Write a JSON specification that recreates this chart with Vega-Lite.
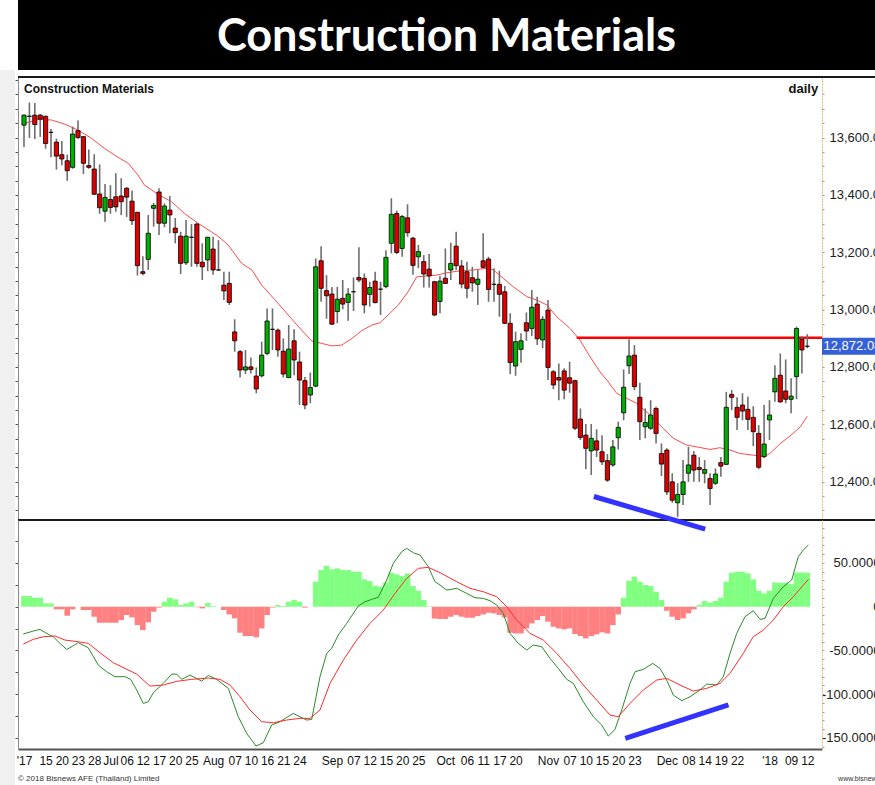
{
 "$schema": "https://vega.github.io/schema/vega-lite/v6.json",
 "background": "white",
 "padding": {"left": 0, "top": 0, "right": 0, "bottom": 0},
 "config": {"view": {"stroke": null}, "font": "Liberation Sans", "axis": {"title": null, "grid": false}, "scale": {"continuousPadding": 0}},
 "datasets": {
  "candles": [
   {"i":0,"o":13643,"h":13680,"l":13567,"c":13678},{"i":1,"o":13674,"h":13722,"l":13598,"c":13674},{"i":2,"o":13678,"h":13720,"l":13595,"c":13645},{"i":3,"o":13678,"h":13682,"l":13602,"c":13664},{"i":4,"o":13674,"h":13676,"l":13561,"c":13579},{"i":5,"o":13618,"h":13630,"l":13531,"c":13618},{"i":6,"o":13584,"h":13596,"l":13488,"c":13535},{"i":7,"o":13540,"h":13588,"l":13503,"c":13525},{"i":8,"o":13519,"h":13540,"l":13449,"c":13484},{"i":9,"o":13496,"h":13638,"l":13491,"c":13612},
   {"i":10,"o":13624,"h":13659,"l":13595,"c":13600},{"i":11,"o":13603,"h":13605,"l":13473,"c":13510},{"i":12,"o":13502,"h":13558,"l":13491,"c":13496},{"i":13,"o":13490,"h":13542,"l":13400,"c":13402},{"i":14,"o":13403,"h":13506,"l":13334,"c":13355},{"i":15,"o":13343,"h":13438,"l":13306,"c":13391},{"i":16,"o":13384,"h":13434,"l":13334,"c":13356},{"i":17,"o":13393,"h":13475,"l":13341,"c":13358},{"i":18,"o":13396,"h":13458,"l":13329,"c":13376},{"i":19,"o":13423,"h":13427,"l":13323,"c":13392},
   {"i":20,"o":13378,"h":13415,"l":13295,"c":13310},{"i":21,"o":13339,"h":13341,"l":13119,"c":13153},{"i":22,"o":13132,"h":13186,"l":13120,"c":13126},{"i":23,"o":13175,"h":13330,"l":13138,"c":13266},{"i":24,"o":13353,"h":13372,"l":13289,"c":13363},{"i":25,"o":13410,"h":13423,"l":13260,"c":13301},{"i":26,"o":13301,"h":13370,"l":13287,"c":13361},{"i":27,"o":13347,"h":13396,"l":13266,"c":13330},{"i":28,"o":13284,"h":13319,"l":13231,"c":13268},{"i":29,"o":13256,"h":13271,"l":13124,"c":13161},
   {"i":30,"o":13163,"h":13312,"l":13155,"c":13256},{"i":31,"o":13252,"h":13298,"l":13149,"c":13252},{"i":32,"o":13298,"h":13303,"l":13149,"c":13161},{"i":33,"o":13165,"h":13231,"l":13103,"c":13149},{"i":34,"o":13173,"h":13254,"l":13134,"c":13252},{"i":35,"o":13211,"h":13254,"l":13121,"c":13138},{"i":36,"o":13138,"h":13242,"l":13136,"c":13138},{"i":37,"o":13085,"h":13132,"l":13033,"c":13065},{"i":38,"o":13091,"h":13132,"l":13016,"c":13025},{"i":39,"o":12922,"h":12966,"l":12853,"c":12891},
   {"i":40,"o":12853,"h":12859,"l":12763,"c":12789},{"i":41,"o":12789,"h":12859,"l":12775,"c":12800},{"i":42,"o":12800,"h":12833,"l":12777,"c":12791},{"i":43,"o":12768,"h":12798,"l":12708,"c":12723},{"i":44,"o":12769,"h":12888,"l":12763,"c":12841},{"i":45,"o":12847,"h":13004,"l":12841,"c":12960},{"i":46,"o":12931,"h":13004,"l":12859,"c":12931},{"i":47,"o":12928,"h":12934,"l":12835,"c":12859},{"i":48,"o":12855,"h":12899,"l":12763,"c":12775},{"i":49,"o":12763,"h":12946,"l":12760,"c":12862},
   {"i":50,"o":12891,"h":12931,"l":12771,"c":12824},{"i":51,"o":12817,"h":12853,"l":12667,"c":12754},{"i":52,"o":12752,"h":12765,"l":12652,"c":12667},{"i":53,"o":12702,"h":12780,"l":12673,"c":12728},{"i":54,"o":12733,"h":13178,"l":12729,"c":13149},{"i":55,"o":13170,"h":13221,"l":13027,"c":13074},{"i":56,"o":13066,"h":13120,"l":12968,"c":13048},{"i":57,"o":13054,"h":13079,"l":12946,"c":12949},{"i":58,"o":12993,"h":13079,"l":12952,"c":13036},{"i":59,"o":13039,"h":13103,"l":13001,"c":13019},
   {"i":60,"o":13025,"h":13074,"l":12961,"c":13054},{"i":61,"o":13062,"h":13112,"l":12995,"c":13062},{"i":62,"o":13112,"h":13217,"l":13095,"c":13103},{"i":63,"o":13109,"h":13126,"l":12987,"c":13016},{"i":64,"o":13053,"h":13097,"l":13010,"c":13077},{"i":65,"o":13099,"h":13132,"l":13022,"c":13024},{"i":66,"o":13071,"h":13097,"l":12981,"c":13071},{"i":67,"o":13080,"h":13207,"l":13074,"c":13182},{"i":68,"o":13231,"h":13388,"l":13196,"c":13332},{"i":69,"o":13335,"h":13345,"l":13193,"c":13199},
   {"i":70,"o":13213,"h":13330,"l":13184,"c":13324},{"i":71,"o":13320,"h":13367,"l":13254,"c":13268},{"i":72,"o":13249,"h":13254,"l":13121,"c":13154},{"i":73,"o":13184,"h":13225,"l":13144,"c":13202},{"i":74,"o":13167,"h":13190,"l":13077,"c":13124},{"i":75,"o":13141,"h":13194,"l":13077,"c":13117},{"i":76,"o":13097,"h":13100,"l":12977,"c":12981},{"i":77,"o":13028,"h":13117,"l":12987,"c":13099},{"i":78,"o":13109,"h":13213,"l":13089,"c":13091},{"i":79,"o":13138,"h":13233,"l":13103,"c":13161},
   {"i":80,"o":13221,"h":13271,"l":13138,"c":13153},{"i":81,"o":13152,"h":13173,"l":13074,"c":13089},{"i":82,"o":13132,"h":13167,"l":13039,"c":13074},{"i":83,"o":13111,"h":13149,"l":13062,"c":13093},{"i":84,"o":13088,"h":13138,"l":13016,"c":13106},{"i":85,"o":13170,"h":13266,"l":13144,"c":13147},{"i":86,"o":13176,"h":13184,"l":13027,"c":13070},{"i":87,"o":13088,"h":13144,"l":13027,"c":13088},{"i":88,"o":13088,"h":13135,"l":12975,"c":13053},{"i":89,"o":13062,"h":13082,"l":12949,"c":12952},
   {"i":90,"o":12952,"h":12987,"l":12775,"c":12815},{"i":91,"o":12803,"h":12923,"l":12769,"c":12888},{"i":92,"o":12861,"h":12917,"l":12814,"c":12891},{"i":93,"o":12954,"h":12990,"l":12891,"c":12925},{"i":94,"o":12934,"h":13068,"l":12908,"c":13008},{"i":95,"o":13019,"h":13045,"l":12876,"c":12898},{"i":96,"o":12894,"h":12977,"l":12865,"c":12966},{"i":97,"o":12998,"h":13033,"l":12754,"c":12798},{"i":98,"o":12783,"h":12789,"l":12722,"c":12737},{"i":99,"o":12763,"h":12812,"l":12684,"c":12754},
   {"i":100,"o":12786,"h":12795,"l":12687,"c":12719},{"i":101,"o":12762,"h":12818,"l":12710,"c":12743},{"i":102,"o":12752,"h":12755,"l":12580,"c":12586},{"i":103,"o":12618,"h":12655,"l":12545,"c":12554},{"i":104,"o":12562,"h":12601,"l":12443,"c":12516},{"i":105,"o":12507,"h":12601,"l":12423,"c":12551},{"i":106,"o":12542,"h":12582,"l":12486,"c":12510},{"i":107,"o":12504,"h":12562,"l":12458,"c":12469},{"i":108,"o":12473,"h":12496,"l":12399,"c":12405},{"i":109,"o":12458,"h":12545,"l":12452,"c":12521},
   {"i":110,"o":12553,"h":12609,"l":12512,"c":12589},{"i":111,"o":12640,"h":12791,"l":12614,"c":12729},{"i":112,"o":12804,"h":12896,"l":12775,"c":12838},{"i":113,"o":12841,"h":12876,"l":12719,"c":12731},{"i":114,"o":12694,"h":12745,"l":12545,"c":12609},{"i":115,"o":12591,"h":12655,"l":12551,"c":12606},{"i":116,"o":12586,"h":12684,"l":12580,"c":12632},{"i":117,"o":12655,"h":12661,"l":12533,"c":12568},{"i":118,"o":12498,"h":12533,"l":12419,"c":12461},{"i":119,"o":12510,"h":12516,"l":12353,"c":12364},
   {"i":120,"o":12399,"h":12429,"l":12326,"c":12335},{"i":121,"o":12326,"h":12394,"l":12277,"c":12355},{"i":122,"o":12355,"h":12475,"l":12318,"c":12399},{"i":123,"o":12429,"h":12521,"l":12399,"c":12458},{"i":124,"o":12492,"h":12507,"l":12399,"c":12440},{"i":125,"o":12449,"h":12486,"l":12399,"c":12442},{"i":126,"o":12429,"h":12475,"l":12394,"c":12442},{"i":127,"o":12411,"h":12429,"l":12318,"c":12376},{"i":128,"o":12394,"h":12446,"l":12388,"c":12426},{"i":129,"o":12466,"h":12486,"l":12417,"c":12454},
   {"i":130,"o":12460,"h":12713,"l":12458,"c":12659},{"i":131,"o":12704,"h":12719,"l":12649,"c":12694},{"i":132,"o":12659,"h":12694,"l":12580,"c":12624},{"i":133,"o":12667,"h":12708,"l":12614,"c":12646},{"i":134,"o":12652,"h":12696,"l":12580,"c":12617},{"i":135,"o":12624,"h":12663,"l":12524,"c":12574},{"i":136,"o":12568,"h":12597,"l":12443,"c":12450},{"i":137,"o":12487,"h":12667,"l":12481,"c":12531},{"i":138,"o":12615,"h":12684,"l":12545,"c":12632},{"i":139,"o":12713,"h":12806,"l":12678,"c":12760},
   {"i":140,"o":12771,"h":12847,"l":12675,"c":12678},{"i":141,"o":12716,"h":12826,"l":12673,"c":12687},{"i":142,"o":12687,"h":12760,"l":12638,"c":12698},{"i":143,"o":12766,"h":12940,"l":12687,"c":12934},{"i":144,"o":12896,"h":12907,"l":12777,"c":12859},{"i":145,"o":12872,"h":12914,"l":12865,"c":12872}
  ],
  "ma": [
   {"i":0.1,"p":13649},{"i":2.6,"p":13663},{"i":5.1,"p":13661},{"i":7.5,"p":13647},{"i":10,"p":13626},{"i":12.5,"p":13597},{"i":14.9,"p":13562},{"i":17.4,"p":13531},{"i":19.3,"p":13510},{"i":21.1,"p":13469},{"i":22.3,"p":13434},{"i":24.8,"p":13402},{"i":27.3,"p":13376},{"i":29.7,"p":13335},{"i":32.2,"p":13301},{"i":34.7,"p":13271},{"i":35.9,"p":13256},{"i":37.8,"p":13225},{"i":40.3,"p":13161},{"i":42.2,"p":13138},{"i":44,"p":13085},{"i":46.5,"p":13033},{"i":48.9,"p":12981},{"i":51.4,"p":12928},{"i":53.3,"p":12890},{"i":55.1,"p":12882},{"i":57,"p":12873},{"i":58.8,"p":12876},{"i":60.7,"p":12899},{"i":62.5,"p":12926},{"i":64.4,"p":12946},{"i":65.9,"p":12954},{"i":67.4,"p":12981},{"i":69.3,"p":13016},{"i":71.1,"p":13062},{"i":72.7,"p":13114},{"i":74.5,"p":13117},{"i":76.4,"p":13120},{"i":78.2,"p":13128},{"i":80.7,"p":13135},{"i":83.2,"p":13138},{"i":85.7,"p":13144},{"i":86.9,"p":13138},{"i":88.7,"p":13109},{"i":90.6,"p":13079},{"i":93.1,"p":13045},{"i":94.9,"p":13033},{"i":96.8,"p":13016},{"i":98.6,"p":12975},{"i":101.1,"p":12934},{"i":102.9,"p":12894},{"i":104.8,"p":12835},{"i":106.6,"p":12783},{"i":107.9,"p":12754},{"i":109.7,"p":12708},{"i":111.6,"p":12690},{"i":113.4,"p":12673},{"i":115.9,"p":12632},{"i":117.7,"p":12597},{"i":120.2,"p":12551},{"i":122.7,"p":12527},{"i":125.1,"p":12519},{"i":127,"p":12512},{"i":128.8,"p":12518},{"i":130.7,"p":12510},{"i":132.5,"p":12498},{"i":135,"p":12492},{"i":136.9,"p":12487},{"i":138.1,"p":12498},{"i":140,"p":12533},{"i":141.8,"p":12559},{"i":143.7,"p":12591},{"i":145,"p":12628}
  ],
  "hist": [
   {"i":0,"v":12.2},{"i":1,"v":12.2},{"i":2,"v":10.3},{"i":3,"v":10.3},{"i":4,"v":3.8},{"i":5,"v":3.8},{"i":6,"v":-3},{"i":7,"v":-3},{"i":8,"v":-10.3},{"i":9,"v":-3},{"i":10,"v":0},{"i":11,"v":-3.8},{"i":12,"v":-3.8},{"i":13,"v":-11.4},{"i":14,"v":-18.3},{"i":15,"v":-18.3},{"i":16,"v":-18.3},{"i":17,"v":-18.3},{"i":18,"v":-15.2},{"i":19,"v":-9.5},
   {"i":20,"v":-12.2},{"i":21,"v":-21},{"i":22,"v":-26.7},{"i":23,"v":-17.9},{"i":24,"v":-5.7},{"i":25,"v":-1},{"i":26,"v":5.7},{"i":27,"v":10.3},{"i":28,"v":8.4},{"i":29,"v":1.9},{"i":30,"v":3.8},{"i":31,"v":5.7},{"i":32,"v":-0.5},{"i":33,"v":-1.9},{"i":34,"v":4.2},{"i":35,"v":0.8},{"i":36,"v":0},{"i":37,"v":-3.8},{"i":38,"v":-8.8},{"i":39,"v":-13.3},
   {"i":40,"v":-29.7},{"i":41,"v":-33.5},{"i":42,"v":-33.5},{"i":43,"v":-35},{"i":44,"v":-24.8},{"i":45,"v":-9.5},{"i":46,"v":-1},{"i":47,"v":1.9},{"i":48,"v":0.8},{"i":49,"v":5.7},{"i":50,"v":7.6},{"i":51,"v":5.7},{"i":52,"v":-1.1},{"i":53,"v":0},{"i":54,"v":28.6},{"i":55,"v":41.9},{"i":56,"v":46.9},{"i":57,"v":42.7},{"i":58,"v":43.8},{"i":59,"v":41.9},
   {"i":60,"v":41.9},{"i":61,"v":40},{"i":62,"v":40},{"i":63,"v":31.2},{"i":64,"v":29.3},{"i":65,"v":24},{"i":66,"v":22.9},{"i":67,"v":27.8},{"i":68,"v":38.9},{"i":69,"v":37},{"i":70,"v":35},{"i":71,"v":38},{"i":72,"v":23.6},{"i":73,"v":18.3},{"i":74,"v":7.6},{"i":75,"v":0.5},{"i":76,"v":-13.5},{"i":77,"v":-14},{"i":78,"v":-14},{"i":79,"v":-11.4},
   {"i":80,"v":-9.5},{"i":81,"v":-11.4},{"i":82,"v":-12.6},{"i":83,"v":-12.6},{"i":84,"v":-10.7},{"i":85,"v":-8.8},{"i":86,"v":-6.9},{"i":87,"v":-7.6},{"i":88,"v":-9.5},{"i":89,"v":-12.2},{"i":90,"v":-29.7},{"i":91,"v":-30.5},{"i":92,"v":-30.5},{"i":93,"v":-24.8},{"i":94,"v":-19},{"i":95,"v":-15.2},{"i":96,"v":-10.7},{"i":97,"v":-17.1},{"i":98,"v":-22.9},{"i":99,"v":-24.8},
   {"i":100,"v":-25.9},{"i":101,"v":-24.8},{"i":102,"v":-31.2},{"i":103,"v":-33.5},{"i":104,"v":-36.2},{"i":105,"v":-33.5},{"i":106,"v":-31.6},{"i":107,"v":-29.3},{"i":108,"v":-30.5},{"i":109,"v":-21},{"i":110,"v":-8.8},{"i":111,"v":10.3},{"i":112,"v":29.7},{"i":113,"v":34.3},{"i":114,"v":28.6},{"i":115,"v":24.8},{"i":116,"v":23.6},{"i":117,"v":17.1},{"i":118,"v":7.6},{"i":119,"v":-4.6},
   {"i":120,"v":-11.4},{"i":121,"v":-15.2},{"i":122,"v":-13.3},{"i":123,"v":-7.6},{"i":124,"v":-3},{"i":125,"v":1.9},{"i":126,"v":6.5},{"i":127,"v":4.6},{"i":128,"v":6.5},{"i":129,"v":10.3},{"i":130,"v":28.6},{"i":131,"v":38.9},{"i":132,"v":40},{"i":133,"v":40},{"i":134,"v":38.1},{"i":135,"v":31.2},{"i":136,"v":18.3},{"i":137,"v":15.2},{"i":138,"v":18.3},{"i":139,"v":27.8},
   {"i":140,"v":27.4},{"i":141,"v":27.4},{"i":142,"v":25.9},{"i":143,"v":38.9},{"i":144,"v":39.2},{"i":145,"v":38.9}
  ],
  "macd": [
   {"i":-0.13,"v":-31.2},{"i":1.72,"v":-27.8},{"i":2.96,"v":-25.9},{"i":4.2,"v":-30.5},{"i":5.42,"v":-34.3},{"i":6.66,"v":-41.9},{"i":7.9,"v":-48.8},{"i":9.02,"v":-45},{"i":10.05,"v":-41.1},{"i":11.9,"v":-46.9},{"i":13.75,"v":-66.7},{"i":15.3,"v":-74.3},{"i":16.85,"v":-80},{"i":18.7,"v":-80},{"i":19.75,"v":-83},{"i":20.86,"v":-95.2},{"i":22.08,"v":-110.5},{"i":23.01,"v":-108.6},{"i":23.94,"v":-98.3},{"i":25.79,"v":-87.6},{"i":27.34,"v":-77},{"i":28.27,"v":-77},{"i":29.19,"v":-83},{"i":30.73,"v":-78.1},{"i":32.9,"v":-85},{"i":34.12,"v":-78.5},{"i":35.67,"v":-83},{"i":37.82,"v":-93.3},{"i":39.67,"v":-125.7},{"i":41.23,"v":-144.8},{"i":42.95,"v":-159.2},{"i":44.3,"v":-155.4},{"i":45.85,"v":-135.2},{"i":47.39,"v":-131.4},{"i":49.85,"v":-121.9},{"i":51.09,"v":-125.7},{"i":52.33,"v":-129.5},{"i":53.26,"v":-128.8},{"i":54.79,"v":-80},{"i":56.04,"v":-53.3},{"i":56.96,"v":-47.6},{"i":58.18,"v":-32.4},{"i":59.74,"v":-19},{"i":61.88,"v":0.8},{"i":63.12,"v":5.7},{"i":64.37,"v":8.4},{"i":65.59,"v":10.7},{"i":67.14,"v":30.5},{"i":68.36,"v":49.5},{"i":69.92,"v":62.9},{"i":70.84,"v":66.7},{"i":72.07,"v":61.7},{"i":73.31,"v":59},{"i":74.84,"v":45.7},{"i":76.08,"v":28.6},{"i":77.01,"v":24.8},{"i":78.25,"v":19},{"i":80.1,"v":21},{"i":81.95,"v":15.2},{"i":83.49,"v":10.3},{"i":85.03,"v":9.5},{"i":86.26,"v":6.9},{"i":87.5,"v":1.9},{"i":88.73,"v":-7.6},{"i":89.97,"v":-30.5},{"i":91.5,"v":-41.9},{"i":93.06,"v":-49.5},{"i":94.28,"v":-43.8},{"i":95.84,"v":-45.7},{"i":97.37,"v":-59},{"i":98.91,"v":-70.5},{"i":100.46,"v":-83},{"i":101.68,"v":-87.6},{"i":103.53,"v":-108.6},{"i":105.39,"v":-125.7},{"i":106.94,"v":-135.2},{"i":108.16,"v":-147.8},{"i":109.4,"v":-140.2},{"i":110.64,"v":-118.1},{"i":112.18,"v":-87.6},{"i":113.11,"v":-74.3},{"i":114.64,"v":-71.6},{"i":116.38,"v":-64.8},{"i":117.73,"v":-70.5},{"i":118.97,"v":-83.8},{"i":120.2,"v":-101},{"i":121.75,"v":-107.4},{"i":123.29,"v":-102.9},{"i":125.14,"v":-95.2},{"i":126.38,"v":-88.4},{"i":128.23,"v":-89.5},{"i":129.45,"v":-80},{"i":130.69,"v":-53.3},{"i":131.93,"v":-30.5},{"i":133.47,"v":-11.4},{"i":135,"v":-4.6},{"i":136.25,"v":-14.5},{"i":137.17,"v":-13.3},{"i":138.71,"v":9.5},{"i":140.56,"v":22.9},{"i":142.11,"v":30.5},{"i":143.33,"v":57.1},{"i":144.26,"v":64.8},{"i":145.19,"v":70.5}
  ],
  "signal": [
   {"i":-0.13,"v":-42.7},{"i":1.72,"v":-37.3},{"i":3.57,"v":-34.3},{"i":5.74,"v":-33.5},{"i":7.59,"v":-38.1},{"i":10.05,"v":-40},{"i":11.9,"v":-41.9},{"i":14.07,"v":-52.6},{"i":16.53,"v":-64},{"i":18.7,"v":-70.5},{"i":20.86,"v":-77},{"i":23.32,"v":-90.7},{"i":25.79,"v":-89.5},{"i":28.27,"v":-85.3},{"i":31.04,"v":-83},{"i":34.12,"v":-81.5},{"i":36.28,"v":-83},{"i":38.13,"v":-89.5},{"i":39.99,"v":-102.9},{"i":41.84,"v":-118.1},{"i":44,"v":-131.4},{"i":46.15,"v":-132.6},{"i":48.63,"v":-129.5},{"i":51.09,"v":-127.6},{"i":52.94,"v":-127.6},{"i":54.79,"v":-118.1},{"i":56.65,"v":-87.6},{"i":59.11,"v":-61},{"i":61.59,"v":-38.1},{"i":64.05,"v":-19},{"i":66.51,"v":-3.8},{"i":68.68,"v":15.2},{"i":70.84,"v":32.4},{"i":72.99,"v":43.8},{"i":74.84,"v":45},{"i":77.01,"v":38.9},{"i":80.1,"v":28.6},{"i":82.56,"v":21},{"i":85.03,"v":17.1},{"i":87.5,"v":11.4},{"i":89.36,"v":0},{"i":91.2,"v":-15.2},{"i":93.67,"v":-30.5},{"i":96.13,"v":-38.1},{"i":98.61,"v":-53.3},{"i":101.07,"v":-70.5},{"i":103.53,"v":-89.5},{"i":106.02,"v":-106.7},{"i":108.48,"v":-123.8},{"i":110.01,"v":-125.7},{"i":112.18,"v":-110.5},{"i":114.64,"v":-95.2},{"i":117.12,"v":-83.8},{"i":118.97,"v":-81.9},{"i":121.44,"v":-89.5},{"i":123.9,"v":-96.4},{"i":126.38,"v":-93.3},{"i":128.84,"v":-87.6},{"i":130.69,"v":-76.2},{"i":133.15,"v":-53.3},{"i":135,"v":-34.3},{"i":136.86,"v":-26.7},{"i":138.71,"v":-15.2},{"i":140.56,"v":0},{"i":142.41,"v":11.4},{"i":145.19,"v":31.2}
  ]
 },
 "spacing": 7,
 "bounds": "flush",
 "vconcat": [
  {
   "width": 857, "height": 70,
   "view": {"fill": "#000000", "stroke": null},
   "data": {"values": [{"t": "Construction Materials"}]},
   "mark": {"type": "text", "font": "Lato", "fontWeight": "bold", "fontSize": 45, "color": "#ffffff", "align": "center", "baseline": "middle", "dy": 2},
   "encoding": {"text": {"field": "t"}}
  },
  {
   "spacing": 0,
   "bounds": "flush",
   "vconcat": [
    {
     "width": 804, "height": 443,
     "resolve": {"axis": {"x": "independent", "y": "independent"}},
     "layer": [
      {
       "data": {"values": [{"area": "margin"}]},
       "mark": {"type": "rect", "fill": "#f0f0f0"},
       "encoding": {
        "x": {"datum": -4.44, "type": "quantitative", "scale": {"domain": [-1.11, 147.72], "nice": false, "zero": false, "padding": 0}, "axis": null},
        "x2": {"datum": -1.67},
        "y": {"datum": 13835, "type": "quantitative", "scale": {"domain": [12266, 13811], "nice": false, "zero": false, "padding": 0}, "axis": null},
        "y2": {"datum": 12266}
       }
      },
      {
       "data": {"values": [{"edge": "top", "p": 13811}, {"edge": "bottom", "p": 12266}]},
       "mark": {"type": "rule", "color": "#1a1a1a", "strokeWidth": 2},
       "encoding": {
        "x": {"datum": -1.11, "type": "quantitative", "scale": {"domain": [-1.11, 147.72], "nice": false, "zero": false, "padding": 0}, "axis": null},
        "x2": {"datum": 160},
        "y": {"field": "p", "type": "quantitative", "scale": {"domain": [12266, 13811], "nice": false, "zero": false, "padding": 0}, "axis": null}
       }
      },
      {
       "data": {"name": "ma"},
       "mark": {"type": "line", "color": "#ff4a4a", "strokeWidth": 1},
       "encoding": {
        "x": {"field": "i", "type": "quantitative", "scale": {"domain": [-1.11, 147.72], "nice": false, "zero": false, "padding": 0}, "axis": null},
        "y": {"field": "p", "type": "quantitative", "scale": {"domain": [12266, 13811], "nice": false, "zero": false, "padding": 0}, "axis": null}
       }
      },
      {
       "data": {"values": [{"level": "resistance", "p": 12902}]},
       "mark": {"type": "rule", "color": "#ff0000", "strokeWidth": 2.5},
       "encoding": {
        "x": {"datum": 102.3, "type": "quantitative", "scale": {"domain": [-1.11, 147.72], "nice": false, "zero": false, "padding": 0}, "axis": null},
        "x2": {"datum": 147.72},
        "y": {"field": "p", "type": "quantitative", "scale": {"domain": [12266, 13811], "nice": false, "zero": false, "padding": 0}, "axis": null}
       }
      },
      {
       "data": {"name": "candles"},
       "mark": {"type": "rule", "color": "#6e6e6e", "strokeWidth": 1.6},
       "encoding": {
        "x": {"field": "i", "type": "quantitative", "scale": {"domain": [-1.11, 147.72], "nice": false, "zero": false, "padding": 0}, "axis": null},
        "y": {"field": "l", "type": "quantitative", "scale": {"domain": [12266, 13811], "nice": false, "zero": false, "padding": 0},
              "axis": {"orient": "left", "values": [12300,12350,12400,12450,12500,12550,12600,12650,12700,12750,12800,12850,12900,12950,13000,13050,13100,13150,13200,13250,13300,13350,13400,13450,13500,13550,13600,13650,13700,13750,13800], "labels": false, "tickSize": 3, "tickColor": "#555555", "domainColor": "#8a8a8a", "title": null}},
        "y2": {"field": "h"}
       }
      },
      {
       "data": {"name": "candles"},
       "mark": {"type": "bar", "width": 4.2, "stroke": "#000000", "strokeWidth": 0.8},
       "encoding": {
        "x": {"field": "i", "type": "quantitative", "scale": {"domain": [-1.11, 147.72], "nice": false, "zero": false, "padding": 0}, "axis": null},
        "y": {"field": "o", "type": "quantitative", "scale": {"domain": [12266, 13811], "nice": false, "zero": false, "padding": 0},
              "axis": {"orient": "right", "values": [12300,12350,12400,12450,12500,12550,12600,12650,12700,12750,12800,12850,12900,12950,13000,13050,13100,13150,13200,13250,13300,13350,13400,13450,13500,13550,13600,13650,13700,13750],
                       "labelExpr": "(datum.value % 200 === 0 && datum.value >= 12400 && datum.value <= 13600) ? format(datum.value, ',.2f') : ''",
                       "tickSize": 2, "tickColor": "#999999", "domainColor": "#d8c070", "domainDash": [2, 1],
                       "labelFont": "Liberation Sans", "labelFontSize": 13, "labelColor": "#222222", "labelPadding": 5, "labelOverlap": false, "labelBound": false, "title": null}},
        "y2": {"field": "c"},
        "fill": {"condition": {"test": "datum.c > datum.o", "value": "#00b000"}, "value": "#e00000"}
       }
      },
      {
       "data": {"values": [{"line": "price trend"}]},
       "mark": {"type": "rule", "color": "#3333ff", "strokeWidth": 5},
       "encoding": {
        "x": {"datum": 105.5, "type": "quantitative", "scale": {"domain": [-1.11, 147.72], "nice": false, "zero": false, "padding": 0}, "axis": null},
        "x2": {"datum": 126.1},
        "y": {"datum": 12348, "type": "quantitative", "scale": {"domain": [12266, 13811], "nice": false, "zero": false, "padding": 0}, "axis": null},
        "y2": {"datum": 12234}
       }
      },
      {
       "data": {"values": [{"p": 12872.08, "t": "12,872.08"}]},
       "mark": {"type": "bar", "height": 17, "fill": "#3560d8", "orient": "horizontal"},
       "encoding": {
        "x": {"datum": 147.72, "type": "quantitative", "scale": {"domain": [-1.11, 147.72], "nice": false, "zero": false, "padding": 0}, "axis": null},
        "x2": {"datum": 160},
        "y": {"field": "p", "type": "quantitative", "scale": {"domain": [12266, 13811], "nice": false, "zero": false, "padding": 0}, "axis": null}
       }
      },
      {
       "data": {"values": [{"p": 12872.08, "t": "12,872.08"}]},
       "mark": {"type": "text", "align": "left", "baseline": "middle", "color": "#ffffff", "font": "Liberation Sans", "fontSize": 13},
       "encoding": {
        "x": {"datum": 148.0, "type": "quantitative", "scale": {"domain": [-1.11, 147.72], "nice": false, "zero": false, "padding": 0}, "axis": null},
        "y": {"field": "p", "type": "quantitative", "scale": {"domain": [12266, 13811], "nice": false, "zero": false, "padding": 0}, "axis": null},
        "text": {"field": "t"}
       }
      },
      {
       "data": {"values": [{"t": "Construction Materials"}]},
       "mark": {"type": "text", "align": "left", "baseline": "middle", "color": "#111111", "font": "Liberation Sans", "fontWeight": "bold", "fontSize": 12},
       "encoding": {
        "x": {"datum": 0, "type": "quantitative", "scale": {"domain": [-1.11, 147.72], "nice": false, "zero": false, "padding": 0}, "axis": null},
        "y": {"datum": 13769, "type": "quantitative", "scale": {"domain": [12266, 13811], "nice": false, "zero": false, "padding": 0}, "axis": null},
        "text": {"field": "t"}
       }
      },
      {
       "data": {"values": [{"t": "daily"}]},
       "mark": {"type": "text", "align": "right", "baseline": "middle", "color": "#111111", "font": "Liberation Sans", "fontWeight": "bold", "fontSize": 13},
       "encoding": {
        "x": {"datum": 147.0, "type": "quantitative", "scale": {"domain": [-1.11, 147.72], "nice": false, "zero": false, "padding": 0}, "axis": null},
        "y": {"datum": 13769, "type": "quantitative", "scale": {"domain": [12266, 13811], "nice": false, "zero": false, "padding": 0}, "axis": null},
        "text": {"field": "t"}
       }
      }
     ]
    },
    {
     "width": 804, "height": 229,
     "resolve": {"axis": {"x": "independent", "y": "independent"}},
     "layer": [
      {
       "data": {"values": [{"area": "margin"}]},
       "mark": {"type": "rect", "fill": "#f0f0f0"},
       "encoding": {
        "x": {"datum": -4.44, "type": "quantitative", "scale": {"domain": [-1.11, 147.72], "nice": false, "zero": false, "padding": 0}, "axis": null},
        "x2": {"datum": -1.67},
        "y": {"datum": 99.1, "type": "quantitative", "scale": {"domain": [-162.6, 99.1], "nice": false, "zero": false, "padding": 0}, "axis": null},
        "y2": {"datum": -204}
       }
      },
      {
       "data": {"name": "hist"},
       "mark": {"type": "bar", "width": 5.6},
       "encoding": {
        "x": {"field": "i", "type": "quantitative", "scale": {"domain": [-1.11, 147.72], "nice": false, "zero": false, "padding": 0},
              "axis": {"orient": "bottom", "values": [0,4,7,10,13,16,19,22,25,28,31,35,39,42,45,48,51,57,61,64,67,70,73,78,82,85,88,91,97,101,104,107,110,113,119,123,126,129,132,138,142,145],
                       "labelExpr": "[\"'17\",\"15\",\"20\",\"23\",\"28\",\"Jul\",\"06\",\"12\",\"17\",\"20\",\"25\",\"Aug\",\"07\",\"10\",\"16\",\"21\",\"24\",\"Sep\",\"07\",\"12\",\"15\",\"20\",\"25\",\"Oct\",\"06\",\"11\",\"17\",\"20\",\"Nov\",\"07\",\"10\",\"15\",\"20\",\"23\",\"Dec\",\"08\",\"14\",\"19\",\"22\",\"'18\",\"09\",\"12\"][indexof([0,4,7,10,13,16,19,22,25,28,31,35,39,42,45,48,51,57,61,64,67,70,73,78,82,85,88,91,97,101,104,107,110,113,119,123,126,129,132,138,142,145], datum.value)]",
                       "ticks": false, "domainColor": "#555555", "domainWidth": 2, "labelFont": "Liberation Sans", "labelFontSize": 12, "labelColor": "#111111", "labelPadding": 6, "labelOverlap": false, "labelBound": false, "labelFlush": false, "title": null}},
        "y": {"field": "v", "type": "quantitative", "scale": {"domain": [-162.6, 99.1], "nice": false, "zero": false, "padding": 0},
              "axis": {"orient": "right", "values": [-160,-150,-140,-130,-120,-110,-100,-90,-80,-70,-60,-50,-40,-30,-20,-10,0,10,20,30,40,50,60,70,80,90],
                       "labelExpr": "datum.value === 0 ? '0' : (datum.value % 50 === 0 ? (datum.value < 0 ? '-' : '') + format(abs(datum.value), '.4f') : '')",
                       "labelAlign": "right", "labelPadding": 56, "tickSize": 2, "tickColor": "#999999", "domainColor": "#d8c070", "domainDash": [2, 1],
                       "labelFont": "Liberation Sans", "labelFontSize": 13, "labelColor": "#222222", "labelOverlap": false, "labelBound": false, "title": null}},
        "y2": {"datum": 0},
        "fill": {"condition": {"test": "datum.v >= 0", "value": "#80ff80"}, "value": "#ff8080"}
       }
      },
      {
       "data": {"name": "macd"},
       "mark": {"type": "line", "color": "#2a8a2a", "strokeWidth": 1},
       "encoding": {
        "x": {"field": "i", "type": "quantitative", "scale": {"domain": [-1.11, 147.72], "nice": false, "zero": false, "padding": 0}, "axis": null},
        "y": {"field": "v", "type": "quantitative", "scale": {"domain": [-162.6, 99.1], "nice": false, "zero": false, "padding": 0},
              "axis": {"orient": "left", "values": [-150,-125,-100,-75,-50,-25,0,25,50,75], "labels": false, "tickSize": 3, "tickColor": "#555555", "domainColor": "#8a8a8a", "title": null}}
       }
      },
      {
       "data": {"name": "signal"},
       "mark": {"type": "line", "color": "#ff2a2a", "strokeWidth": 1},
       "encoding": {
        "x": {"field": "i", "type": "quantitative", "scale": {"domain": [-1.11, 147.72], "nice": false, "zero": false, "padding": 0}, "axis": null},
        "y": {"field": "v", "type": "quantitative", "scale": {"domain": [-162.6, 99.1], "nice": false, "zero": false, "padding": 0}, "axis": null}
       }
      },
      {
       "data": {"values": [{"line": "macd trend"}]},
       "mark": {"type": "rule", "color": "#3333ff", "strokeWidth": 5},
       "encoding": {
        "x": {"datum": 111.3, "type": "quantitative", "scale": {"domain": [-1.11, 147.72], "nice": false, "zero": false, "padding": 0}, "axis": null},
        "x2": {"datum": 130.4},
        "y": {"datum": -150.4, "type": "quantitative", "scale": {"domain": [-162.6, 99.1], "nice": false, "zero": false, "padding": 0}, "axis": null},
        "y2": {"datum": -112.3}
       }
      },
      {
       "data": {"values": [{"t": "© 2018 Bisnews AFE (Thailand) Limited"}]},
       "mark": {"type": "text", "align": "left", "baseline": "middle", "color": "#333333", "fontSize": 8, "font": "Liberation Sans"},
       "encoding": {
        "x": {"datum": -1.11, "type": "quantitative", "scale": {"domain": [-1.11, 147.72], "nice": false, "zero": false, "padding": 0}, "axis": null},
        "y": {"datum": -197, "type": "quantitative", "scale": {"domain": [-162.6, 99.1], "nice": false, "zero": false, "padding": 0}, "axis": null},
        "text": {"field": "t"}
       }
      },
      {
       "data": {"values": [{"t": "www.bisnews.com"}]},
       "mark": {"type": "text", "align": "left", "baseline": "middle", "color": "#333333", "fontSize": 7, "font": "Liberation Sans"},
       "encoding": {
        "x": {"datum": 150.7, "type": "quantitative", "scale": {"domain": [-1.11, 147.72], "nice": false, "zero": false, "padding": 0}, "axis": null},
        "y": {"datum": -197, "type": "quantitative", "scale": {"domain": [-162.6, 99.1], "nice": false, "zero": false, "padding": 0}, "axis": null},
        "text": {"field": "t"}
       }
      }
     ]
    }
   ]
  }
 ]
}
